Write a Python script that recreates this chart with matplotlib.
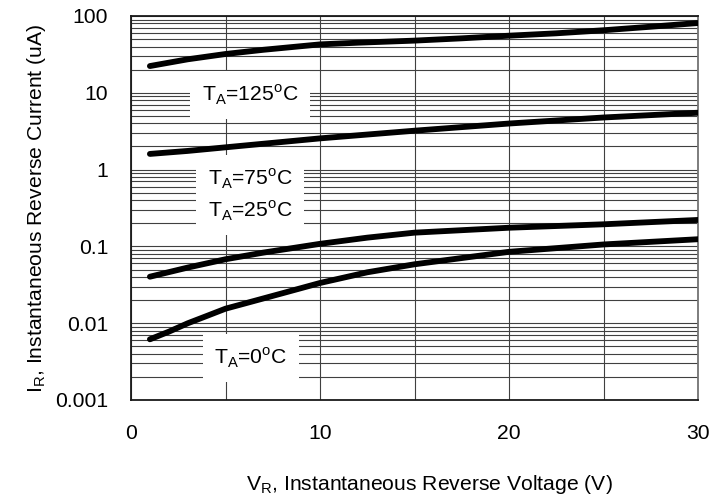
import matplotlib
matplotlib.use("Agg")
import matplotlib.pyplot as plt
from matplotlib.ticker import LogLocator, NullFormatter, FixedLocator, FixedFormatter

plt.rcParams['font.family'] = ['Liberation Sans', 'DejaVu Sans']
plt.rcParams['mathtext.fontset'] = 'custom'
plt.rcParams['mathtext.rm'] = 'Liberation Sans'

v_125 = [1, 3, 5, 7, 10, 12, 15, 17.5, 20, 22.5, 25, 27.5, 30]
i_125 = [22.3, 27.3, 32, 36.3, 42.7, 44.9, 47.8, 51.2, 55.4, 59.5, 65.2, 72.5, 81]

v_75 = [1, 3, 5, 10, 15, 20, 25, 30]
i_75 = [1.6, 1.75, 1.95, 2.55, 3.21, 3.98, 4.77, 5.5]

v_25 = [1, 3, 5, 7, 10, 12.5, 15, 20, 25, 30]
i_25 = [0.0403, 0.053, 0.068, 0.083, 0.108, 0.13, 0.151, 0.175, 0.194, 0.221]

v_0 = [1, 2, 3, 4, 5, 6, 7, 8, 9, 10, 12.5, 15, 20, 25, 30]
i_0 = [0.00617, 0.00775, 0.00997, 0.0124, 0.01545, 0.018, 0.021, 0.0245,
       0.0286, 0.0334, 0.046, 0.0585, 0.085, 0.106, 0.124]

x_ticks = [0, 10, 20, 30]
y_ticks = [0.001, 0.01, 0.1, 1, 10, 100]
y_labels = ['0.001', '0.01', '0.1', '1', '10', '100']

FS = 15.2

fig = plt.figure(figsize=(7.18, 4.96), dpi=100)
ax = fig.add_axes([131/718, 1-400/496, 567/718, 384/496])
ax.set_yscale('log')
ax.set_xlim(0, 30)
ax.set_ylim(0.001, 100)

ax.xaxis.set_major_locator(FixedLocator(x_ticks))
ax.xaxis.set_minor_locator(FixedLocator([5, 15, 25]))
ax.yaxis.set_major_locator(FixedLocator(y_ticks))
ax.yaxis.set_major_formatter(FixedFormatter(y_labels))
ax.yaxis.set_minor_locator(LogLocator(base=10, subs=range(2, 10)))
ax.yaxis.set_minor_formatter(NullFormatter())

ax.grid(True, which='both', axis='both', color='0.25', lw=0.8)
ax.tick_params(which='both', length=0, labelsize=FS)
ax.tick_params(axis='x', pad=17.5)
ax.tick_params(axis='y', pad=16.5)

for s in ax.spines.values():
    s.set_linewidth(1.3)
    s.set_color('0.1')
ax.spines['right'].set_color('0.45')

for xs, ys in ((v_125, i_125), (v_75, i_75), (v_25, i_25), (v_0, i_0)):
    ax.plot(xs, ys, color='black', lw=4.2, solid_capstyle='round',
            solid_joinstyle='round', zorder=5)

bb = dict(facecolor='white', edgecolor='none', pad=8.5)
ax.text(6.3, 9.3, r'T$_\mathregular{A}$=125$^\mathregular{o}$C', fontsize=FS,
        ha='center', va='center', bbox=bb, zorder=4)
ax.text(6.3, 0.47, 'T$_\\mathregular{A}$=75$^\\mathregular{o}$C\nT$_\\mathregular{A}$=25$^\\mathregular{o}$C',
        fontsize=FS, ha='center', va='center', linespacing=1.45, bbox=bb, zorder=4)
ax.text(6.35, 0.0035, r'T$_\mathregular{A}$=0$^\mathregular{o}$C', fontsize=FS,
        ha='center', va='center', bbox=bb, zorder=4)

ax.set_xlabel(r'V$_\mathregular{R}$, Instantaneous Reverse Voltage (V)', fontsize=FS)
ax.xaxis.set_label_coords(0.526, -0.19)
ax.set_ylabel(r'I$_\mathregular{R}$, Instantaneous Reverse Current (uA)', fontsize=FS, labelpad=5)

fig.savefig('out.png', dpi=100)
